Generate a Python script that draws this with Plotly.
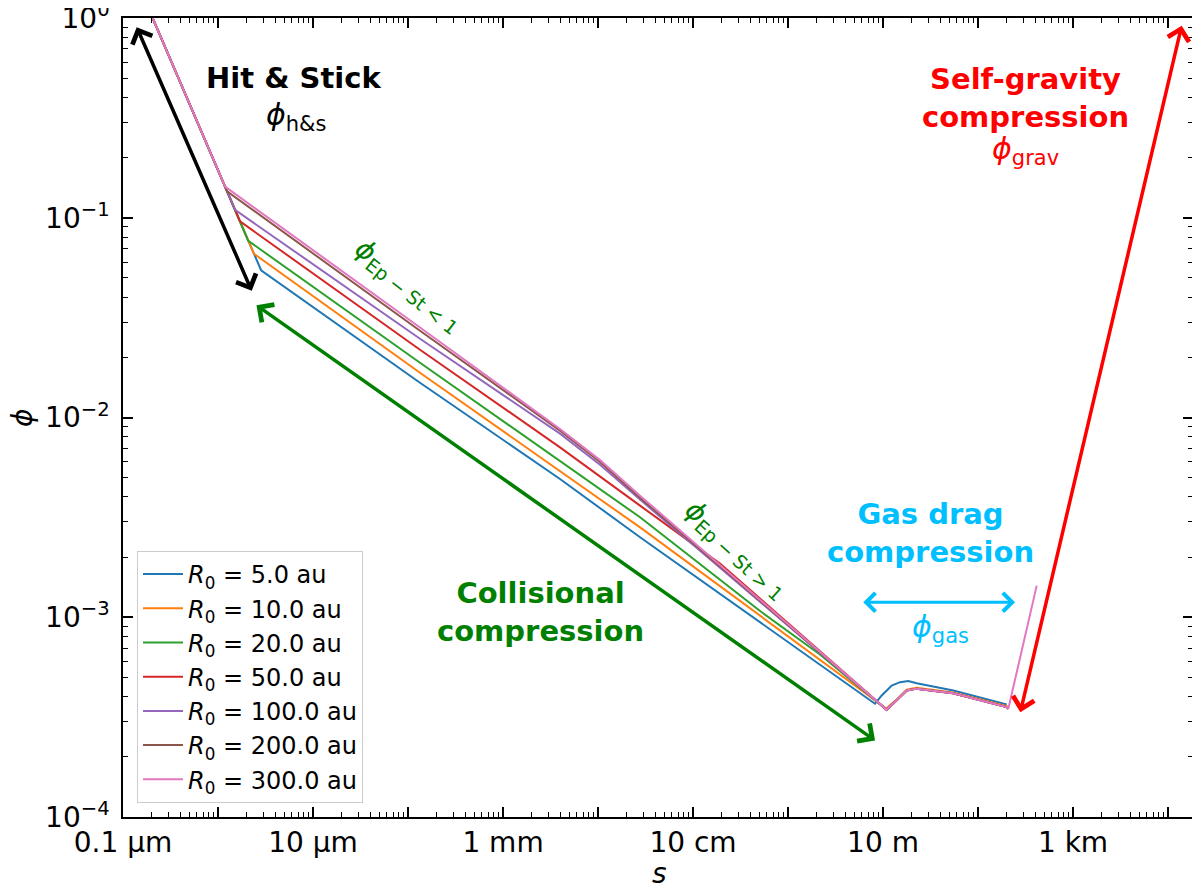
import plotly.graph_objects as go

# ---------------- data (s in metres, phi dimensionless) ----------------
labels = ["<i>R</i><sub>0</sub> = 5.0 au", "<i>R</i><sub>0</sub> = 10.0 au",
          "<i>R</i><sub>0</sub> = 20.0 au", "<i>R</i><sub>0</sub> = 50.0 au",
          "<i>R</i><sub>0</sub> = 100.0 au", "<i>R</i><sub>0</sub> = 200.0 au",
          "<i>R</i><sub>0</sub> = 300.0 au"]
colors = ["#1f77b4", "#ff7f0e", "#2ca02c", "#d62728", "#9467bd", "#8c564b", "#e377c2"]

# gas-drag region shared by the R0 >= 10 au curves
gas_s = [13.94, 17.76, 22.63, 54.6, 200.5, 208.4]
gas_phi = [3.83e-4, 4.30e-4, 4.39e-4, 4.16e-4, 3.55e-4, 3.48e-4]

s_5 = [2.05e-7, 2.84e-6, 1.337e-4, 3.98e-3, 2.77e-2, 8.24, 9.69, 12.35, 15.10, 18.46, 22.63, 54.95, 200.5]
phi_5 = [1.0, 0.0546, 0.01493, 4.92e-3, 2.515e-3, 3.69e-4, 4.06e-4, 4.55e-4, 4.73e-4, 4.79e-4, 4.67e-4, 4.30e-4, 3.66e-4]

s_10 = [2.05e-7, 2.39e-6, 1.337e-4, 3.98e-3, 2.77e-2, 10.8]
phi_10 = [1.0, 0.0660, 0.01675, 5.42e-3, 2.817e-3, 3.49e-4]

s_20 = [2.05e-7, 2.08e-6, 1.337e-4, 3.98e-3, 2.77e-2, 0.5, 2.17, 10.94]
phi_20 = [1.0, 0.0767, 0.01879, 6.08e-3, 3.166e-3, 1.080e-3, 6.51e-4, 3.44e-4]

s_50 = [2.05e-7, 1.705e-6, 1.337e-4, 3.98e-3, 2.77e-2, 0.1924, 10.94]
phi_50 = [1.0, 0.0959, 0.02183, 7.09e-3, 3.62e-3, 1.856e-3, 3.44e-4]

s_100 = [2.05e-7, 1.51e-6, 1.337e-4, 3.98e-3, 1.05e-2, 2.77e-2, 10.94]
phi_100 = [1.0, 0.1095, 0.02479, 8.30e-3, 5.80e-3, 3.88e-3, 3.44e-4]

s_200 = [2.05e-7, 1.244e-6, 1.337e-4, 3.98e-3, 1.05e-2, 2.77e-2, 10.94]
phi_200 = [1.0, 0.1357, 0.02718, 8.59e-3, 5.99e-3, 3.97e-3, 3.44e-4]

s_300 = [2.05e-7, 1.186e-6, 1.337e-4, 3.98e-3, 1.05e-2, 2.77e-2, 10.94]
phi_300 = [1.0, 0.1432, 0.02824, 8.76e-3, 6.12e-3, 4.06e-3, 3.44e-4]
# self-gravity onset for the 300 au curve
sg_s = [414.8]
sg_phi = [1.44e-3]

x_tickvals = [1e-7, 1e-6, 1e-5, 1e-4, 1e-3, 1e-2, 1e-1, 1e0, 1e1, 1e2, 1e3, 1e4]
x_ticktext = ["0.1 µm", "", "10 µm", "", "1 mm", "", "10 cm", "", "10 m", "", "1 km", ""]
y_tickvals = [1e-4, 1e-3, 1e-2, 1e-1, 1e0]
y_ticktext = ["10<sup>−4</sup>", "10<sup>−3</sup>", "10<sup>−2</sup>", "10<sup>−1</sup>", "10<sup>0</sup>"]

# ---------------- build ----------------
series = [
    (s_5, phi_5),
    (s_10 + gas_s, phi_10 + [p * 1.01 for p in gas_phi]),
    (s_20 + gas_s, phi_20 + gas_phi),
    (s_50 + gas_s, phi_50 + gas_phi),
    (s_100 + gas_s, phi_100 + gas_phi),
    (s_200 + gas_s, phi_200 + gas_phi),
    (s_300 + gas_s + sg_s, phi_300 + gas_phi + sg_phi),
]

FONT = "DejaVu Sans"
fig = go.Figure()
for (xs, ys), lab, col in zip(series, labels, colors):
    fig.add_trace(go.Scatter(x=xs, y=ys, mode="lines", name=lab,
                             line=dict(color=col, width=2)))

x_minor = [m * 10.0 ** e for e in range(-7, 5) for m in range(2, 10) if m * 10.0 ** e < 1.8e4]
y_minor = [m * 10.0 ** e for e in range(-4, 0) for m in range(2, 10)]

axis_common = dict(type="log", showgrid=False, zeroline=False, showline=True,
                   linecolor="black", linewidth=1.5, mirror="allticks",
                   ticks="inside", ticklen=10, tickwidth=1.5, tickcolor="black",
                   automargin=False, ticklabeloverflow="allow",
                   tickfont=dict(family=FONT, size=28, color="black"))

fig.update_xaxes(range=[-7.0002, 4.263], tickmode="array", tickvals=x_tickvals, ticktext=x_ticktext,
                 minor=dict(tickmode="array", tickvals=x_minor, ticks="inside", ticklen=5,
                            tickwidth=1.2, tickcolor="black"),
                 **axis_common)
fig.update_yaxes(range=[-4.0002, 0.0002], tickmode="array", tickvals=y_tickvals, ticktext=y_ticktext,
                 minor=dict(tickmode="array", tickvals=y_minor, ticks="inside", ticklen=5,
                            tickwidth=1.2, tickcolor="black"),
                 ticklabelstandoff=6,
                 **axis_common)


def darrow(x0, y0, x1, y1, color, width):
    fig.add_annotation(x=x1, y=y1, ax=x0, ay=y0, xref="x", yref="y", axref="x", ayref="y",
                       text="", showarrow=True, arrowside="end+start",
                       arrowhead=4, startarrowhead=4, arrowsize=1.2, startarrowsize=1.2,
                       arrowwidth=width, arrowcolor=color, standoff=0, startstandoff=0)


def label(x, y, text, color, size, angle=0, xref="x", yref="y"):
    fig.add_annotation(x=x, y=y, xref=xref, yref=yref, text=text, showarrow=False,
                       textangle=angle, font=dict(family=FONT, size=size, color=color),
                       xanchor="center", yanchor="middle", align="center")


# arrows (log10 coordinates)
darrow(-6.863, -0.038, -5.645, -1.366, "black", 3.5)
darrow(-5.611, -1.433, 0.916, -3.617, "green", 3.5)
darrow(0.776, -2.925, 2.390, -2.925, "deepskyblue", 3)
darrow(2.442, -3.483, 4.144, -0.038, "red", 3.5)

# texts
label(-5.21, -0.302, "<b>Hit &amp; Stick</b>", "black", 29)
label(-5.18, -0.493, "<i>ϕ</i><sub>h&amp;s</sub>", "black", 30)
label(2.495, -0.398, "<b>Self-gravity<br>compression</b>", "red", 29)
label(2.495, -0.665, "<i>ϕ</i><sub>grav</sub>", "red", 30)
label(1.495, -2.576, "<b>Gas drag<br>compression</b>", "deepskyblue", 29)
label(1.60, -3.056, "<i>ϕ</i><sub>gas</sub>", "deepskyblue", 30)
label(-2.61, -2.976, "<b>Collisional<br>compression</b>", "green", 29)
label(-4.0, -1.341, "<i>ϕ</i><sub>Ep − St &lt; 1</sub>", "green", 27, angle=38)
label(-0.547, -2.661, "<i>ϕ</i><sub>Ep − St &gt; 1</sub>", "green", 27, angle=42)

# axis titles
label(0.501, -0.071, "<i>s</i>", "black", 28, xref="paper", yref="paper")
label(-0.094, 0.5, "<i>ϕ</i>", "black", 28, angle=-90, xref="paper", yref="paper")

fig.update_layout(
    width=1200, height=889,
    margin=dict(l=115, r=15, t=9.5, b=80),
    paper_bgcolor="white", plot_bgcolor="white",
    font=dict(family=FONT, size=24, color="black"),
    showlegend=True,
    legend=dict(x=0.0131, y=0.0175, xanchor="left", yanchor="bottom",
                bgcolor="white", bordercolor="#cccccc", borderwidth=1,
                font=dict(family=FONT, size=24, color="black"),
                tracegroupgap=0, itemwidth=40),
)

fig.write_html("out.html")
